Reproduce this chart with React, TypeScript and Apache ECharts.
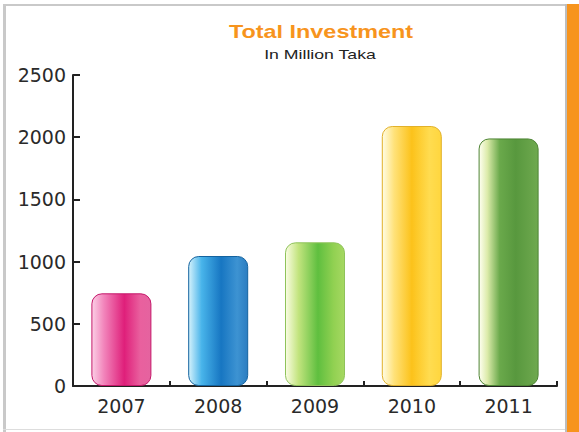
import React, { useEffect, useRef } from "react";
import * as echarts from "echarts";

const categories = ["2007", "2008", "2009", "2010", "2011"];
const values = [745, 1045, 1155, 2090, 1990];
const yTicks = { min: 0, max: 2500, interval: 500 };
const titleText = "Total Investment";
const subtitleText = "In Million Taka";

const barGradients: [number, string][][] = [
  [[0, "#fbd0e6"], [0.2, "#f286bc"], [0.55, "#df1f7a"], [0.82, "#e9609e"], [1, "#e5639f"]],
  [[0, "#d4f2fc"], [0.22, "#48b4ea"], [0.55, "#1776c2"], [0.82, "#3d93d2"], [1, "#2b7dc1"]],
  [[0, "#fbfde4"], [0.22, "#c2e47e"], [0.55, "#5fbf3f"], [0.82, "#92d152"], [1, "#a6d862"]],
  [[0, "#fffde6"], [0.2, "#ffe27a"], [0.5, "#fcc21a"], [0.8, "#ffdc50"], [1, "#ffd63e"]],
  [[0, "#fffff2"], [0.14, "#dcebaa"], [0.35, "#6aa94b"], [0.62, "#58983e"], [1, "#6fa94f"]],
];
const barBorders = ["#c4176a", "#14639f", "#8fc35a", "#e2b12a", "#4d8434"];

export default function App() {
  const ref = useRef<HTMLDivElement>(null);
  useEffect(() => {
    document.body.style.margin = "0";
    const chart = echarts.init(ref.current!, null, { renderer: "svg" });
    const data = values.map((v, i) => ({
      value: v,
      itemStyle: {
        color: new echarts.graphic.LinearGradient(
          0, 0, 1, 0,
          barGradients[i].map(([offset, color]) => ({ offset, color }))
        ),
        borderColor: barBorders[i],
        borderWidth: 1,
        borderRadius: 10,
      },
    }));
    chart.setOption({
      animation: false,
      backgroundColor: "#ffffff",
      grid: { left: 73, right: 22, top: 75, bottom: 46 },
      xAxis: {
        type: "category",
        data: categories,
        boundaryGap: true,
        axisLine: { show: true, lineStyle: { color: "#222", width: 2 } },
        axisTick: { show: true, inside: true, length: 5, lineStyle: { color: "#222", width: 2 } },
        axisLabel: { color: "#2a2a2a", fontSize: 19, fontFamily: "DejaVu Sans", margin: 10 },
      },
      yAxis: {
        type: "value",
        min: yTicks.min,
        max: yTicks.max,
        interval: yTicks.interval,
        axisLine: { show: true, lineStyle: { color: "#222", width: 2 } },
        axisTick: { show: true, inside: true, length: 7, lineStyle: { color: "#222", width: 2 } },
        axisLabel: {
          color: "#2a2a2a",
          fontSize: 19,
          fontFamily: "DejaVu Sans",
          margin: 7,
          formatter: (v: number) => String(v),
        },
        splitLine: { show: false },
      },
      series: [
        {
          type: "bar",
          data,
          barWidth: 60,
        },
      ],
      graphic: [
        { type: "rect", shape: { x: 3, y: 4, width: 3, height: 428 }, style: { fill: "#c9c9c9" }, silent: true },
        { type: "rect", shape: { x: 3, y: 4, width: 564, height: 2 }, style: { fill: "#c9c9c9" }, silent: true },
        { type: "rect", shape: { x: 3, y: 429, width: 564, height: 1 }, style: { fill: "#dddddd" }, silent: true },
        { type: "rect", shape: { x: 565, y: 4, width: 2, height: 428 }, style: { fill: "#bdbdbd" }, silent: true },
        { type: "rect", shape: { x: 567, y: 4, width: 12, height: 428 }, style: { fill: "#f7941d" }, silent: true },
        {
          type: "text",
          x: 321,
          y: 32,
          scaleX: 1.3,
          style: {
            text: titleText,
            fill: "#f7941d",
            font: "bold 18px 'Liberation Sans', Arial, sans-serif",
            textAlign: "center",
            textVerticalAlign: "middle",
          },
        },
        {
          type: "text",
          x: 320,
          y: 54,
          scaleX: 1.36,
          style: {
            text: subtitleText,
            fill: "#222",
            font: "13px 'Liberation Sans', Arial, sans-serif",
            textAlign: "center",
            textVerticalAlign: "middle",
          },
        },
      ],
    });
    return () => chart.dispose();
  }, []);
  return (
    <div
      ref={ref}
      style={{ position: "fixed", left: 0, top: 0, width: 579, height: 432 }}
    />
  );
}
